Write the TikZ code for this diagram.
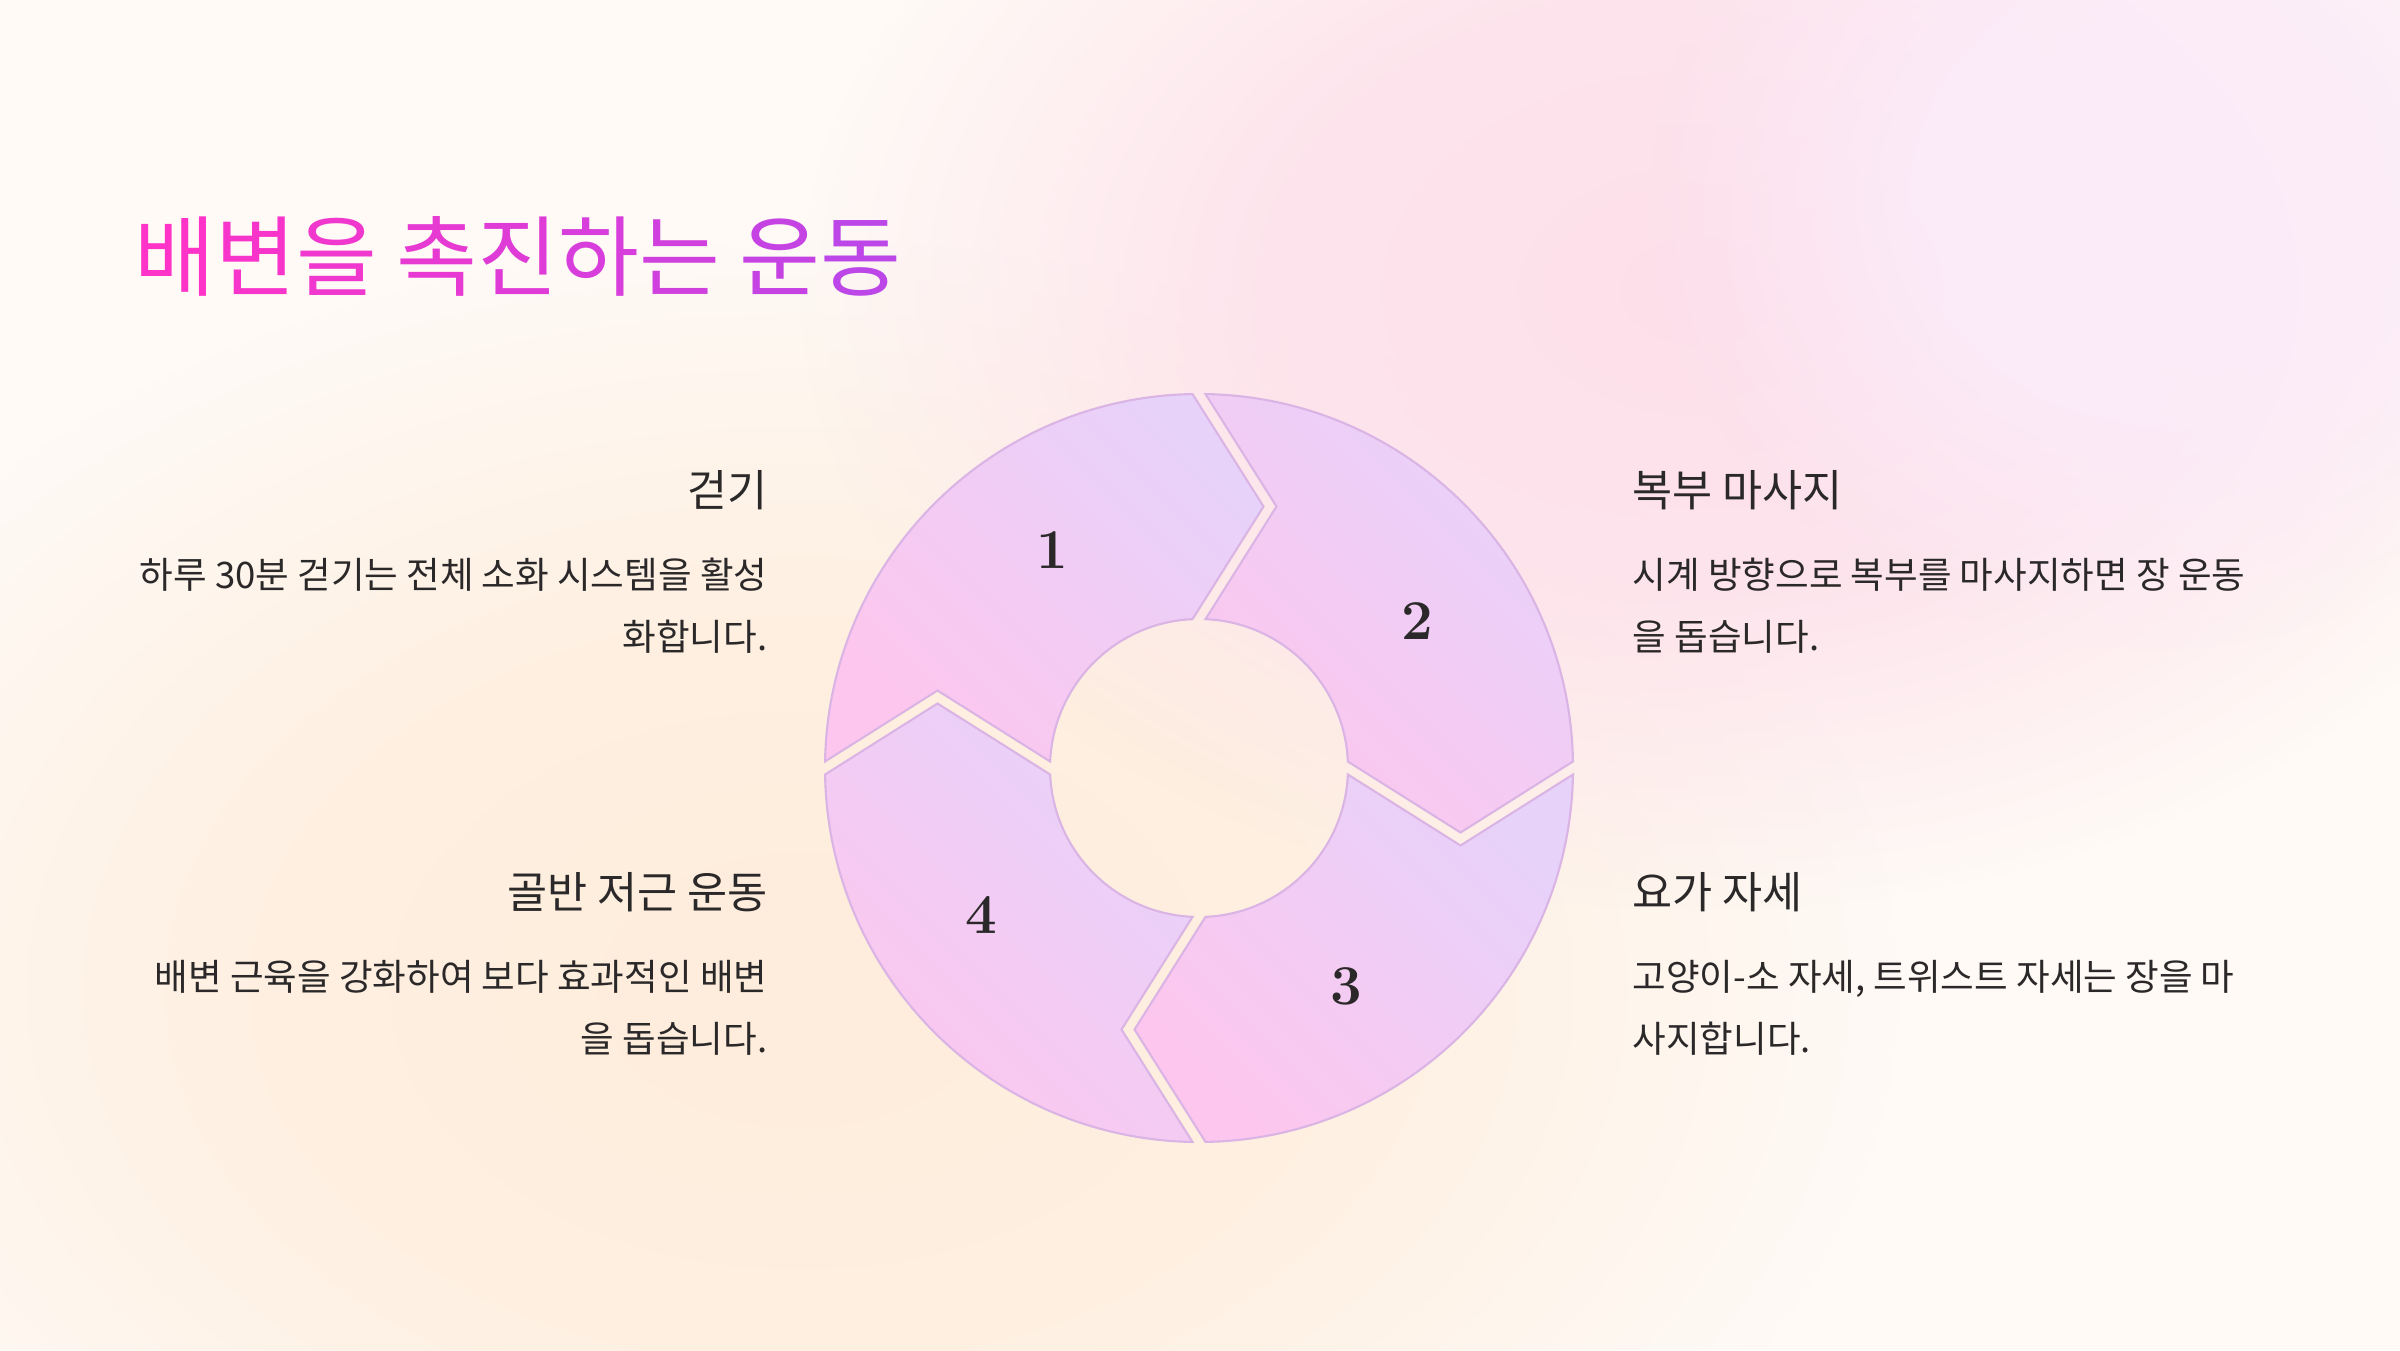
\documentclass[tikz,border=0pt]{standalone}
\usepackage{fontspec}
\newfontfamily\kr{Noto Sans CJK KR}
\usetikzlibrary{calc,fadings}

\definecolor{bgcream}{HTML}{FFFAF6}
\definecolor{blobpink}{HTML}{FDDFEA}
\definecolor{bloblav}{HTML}{FBECFA}
\definecolor{blobpeach}{HTML}{FEEDDC}
\definecolor{segpink}{HTML}{FDC6EE}
\definecolor{seglav}{HTML}{E7D2FA}
\definecolor{segline}{HTML}{DAB4E4}
\definecolor{ttlpink}{HTML}{FF33C7}
\definecolor{ttlpurple}{HTML}{BC46E8}
\definecolor{txtdark}{HTML}{2B2829}

% soft blob: flat middle, fading out to the rim
\pgfdeclareradialshading{blobshade}{\pgfpointorigin}{color(0bp)=(white); color(12bp)=(white!80!black); color(25bp)=(black); color(50bp)=(black)}
\pgfdeclarefading{blobfade}{\pgfuseshading{blobshade}}

% title letters run from pink to purple
\newcommand\ttlchar[2]{\textcolor{ttlpurple!#1!ttlpink}{#2}}

\begin{document}
\begin{tikzpicture}[
        segment/.style={top color=seglav, bottom color=segpink, shading angle=-45,
            draw=segline, line width=0.6pt},
        stepnum/.style={font=\fontsize{16}{16}\selectfont\bfseries, text=txtdark},
        heading/.style={font=\kr\fontsize{12.4}{15}\selectfont, text=txtdark, inner sep=0pt},
        desc/.style={font=\kr\fontsize{10.4}{17.6}\selectfont, text=txtdark, inner sep=0pt}
    ]
        % Background
        \fill[bgcream] (0,0) rectangle (24,13.5);
        \useasboundingbox (0,0) rectangle (24,13.5);
        \fill[blobpeach, path fading=blobfade] (8,3.6) ellipse (11 and 7.5);
        \fill[blobpink, path fading=blobfade] (17,10.6) ellipse (9 and 6.2);
        \fill[bloblav, path fading=blobfade] (21.5,11.5) ellipse (5 and 4.5);

        % Title
        \node[anchor=west, inner sep=0pt, font=\kr\fontsize{25}{30}\selectfont] (title) at (1.34,10.94)
            {\ttlchar{0}{배}\ttlchar{11}{변}\ttlchar{22}{을} \ttlchar{37}{촉}\ttlchar{48}{진}\ttlchar{59}{하}\ttlchar{70}{는} \ttlchar{85}{운}\ttlchar{100}{동}};

        % Cycle segments
        \coordinate (C) at (11.99,5.82);
        \foreach \k in {0,...,3} {
            \begin{scope}[shift={(C)}, rotate=-90*\k]
                \coordinate (o\k) at (179.0:3.74);
                \coordinate (p\k) at (91.0:3.74);
                \coordinate (t\k) at (0.645,2.615);
                \coordinate (q\k) at (92.5:1.49);
                \coordinate (i\k) at (177.5:1.49);
                \coordinate (n\k) at (-2.615,0.775);
            \end{scope}
            \shade[segment] (o\k) arc[start angle=179-90*\k, end angle=91-90*\k, radius=3.74]
                -- (t\k) -- (q\k) arc[start angle=92.5-90*\k, end angle=177.5-90*\k, radius=1.49]
                -- (n\k) -- cycle;
        }
        \foreach \k/\lbl in {0/1,1/2,2/3,3/4} {
            \node[stepnum] (num\lbl) at ($(C)+(124-90*\k:2.63)$) {\lbl};
        }

        % Left texts
        \node[heading, anchor=east] (walkhead) at (7.68,8.60) {걷기};
        \node[desc, anchor=east, align=right] (walkdesc) at (7.68,7.44)
            {하루 30분 걷기는 전체 소화 시스템을 활성\\화합니다.};
        \node[heading, anchor=east] (pelvhead) at (7.68,4.58) {골반 저근 운동};
        \node[desc, anchor=east, align=right] (pelvdesc) at (7.68,3.42)
            {배변 근육을 강화하여 보다 효과적인 배변\\을 돕습니다.};

        % Right texts
        \node[heading, anchor=west] (masshead) at (16.32,8.60) {복부 마사지};
        \node[desc, anchor=west, align=left] (massdesc) at (16.32,7.44)
            {시계 방향으로 복부를 마사지하면 장 운동\\을 돕습니다.};
        \node[heading, anchor=west] (yogahead) at (16.32,4.58) {요가 자세};
        \node[desc, anchor=west, align=left] (yogadesc) at (16.32,3.42)
            {고양이-소 자세, 트위스트 자세는 장을 마\\사지합니다.};
    \end{tikzpicture}
\end{document}
